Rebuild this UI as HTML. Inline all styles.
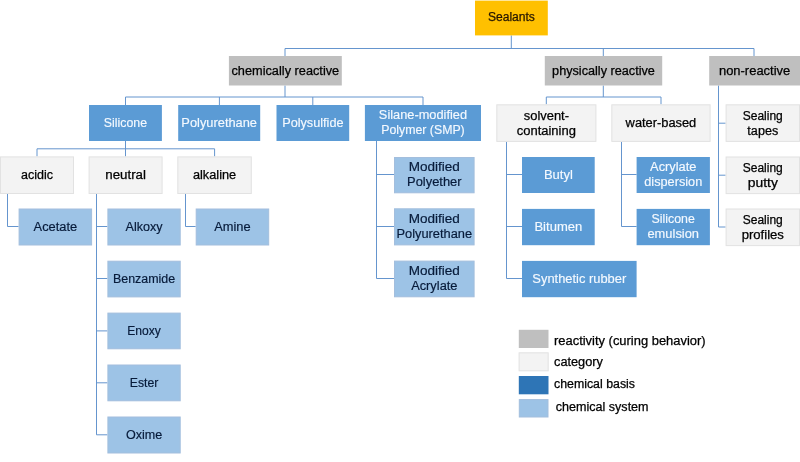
<!DOCTYPE html>
<html lang="en">
<head>
<meta charset="utf-8">
<title>Sealants classification</title>
<style>
html,body{margin:0;padding:0;background:#fff;}
body{width:800px;height:462px;overflow:hidden;}
svg{display:block;filter:blur(0.35px);}
text{font-family:"Liberation Sans", sans-serif;font-size:12.3px;stroke-width:0.25px;stroke-linejoin:round;}
.k{fill:#000;stroke:#000;}
.w{fill:#f4f9ff;stroke:#f4f9ff;stroke-width:0.15px;}
.n{fill:#071b3a;stroke:#071b3a;stroke-width:0.18px;}
.g{fill:#241500;stroke:#241500;}
.c{fill:none;stroke:#6595CE;stroke-width:1;}
</style>
</head>
<body>
<svg width="800" height="462" viewBox="0 0 800 462">
<rect width="800" height="462" fill="#fff"/>
<g class="c">
<path d="M511.3 35.4V48.5"/>
<path d="M285 56V48.5H754V56"/>
<path d="M603.3 48.5V56"/>
<path d="M285 85.5V97"/>
<path d="M125.5 105V97H423V105"/>
<path d="M219.4 97V105"/>
<path d="M312.8 97V105"/>
<path d="M603.3 85.5V97"/>
<path d="M546.3 104.3V97H661V104.3"/>
<path d="M718.5 85.5V227H725.6"/>
<path d="M718.5 123.2H725.6"/>
<path d="M718.5 175.2H725.6"/>
<path d="M125.5 141V156.4"/>
<path d="M37 156.4V148.8H214.6V156.4"/>
<path d="M7.5 194V226.5H18.6"/>
<path d="M96.5 194V434.8H107.4"/>
<path d="M96.5 226.5H107.4"/>
<path d="M96.5 278.5H107.4"/>
<path d="M96.5 330.9H107.4"/>
<path d="M96.5 382.8H107.4"/>
<path d="M185.5 194V226.5H195.7"/>
<path d="M376.5 141V278.5H394"/>
<path d="M376.5 174.5H394"/>
<path d="M376.5 226.5H394"/>
<path d="M506.5 141.9V278.5H522"/>
<path d="M506.5 174.5H522"/>
<path d="M506.5 226.5H522"/>
<path d="M621.5 141.9V226.5H636.6"/>
<path d="M621.5 174.5H636.6"/>
</g>
<rect x="475.0" y="0.6" width="72.8" height="34.8" fill="#FFC000"/>
<text x="511.40" y="21.30" class="g" text-anchor="middle" textLength="47.03" lengthAdjust="spacingAndGlyphs">Sealants</text>
<rect x="228.9" y="56.0" width="112.9" height="29.5" fill="#BFBFBF"/>
<text x="285.35" y="74.75" class="k" text-anchor="middle" textLength="107.69" lengthAdjust="spacingAndGlyphs">chemically reactive</text>
<rect x="544.8" y="56.0" width="117.4" height="29.5" fill="#BFBFBF"/>
<text x="603.50" y="74.75" class="k" text-anchor="middle" textLength="102.84" lengthAdjust="spacingAndGlyphs">physically reactive</text>
<rect x="709.2" y="56.0" width="90.8" height="29.5" fill="#BFBFBF"/>
<text x="754.60" y="74.75" class="k" text-anchor="middle" textLength="71.27" lengthAdjust="spacingAndGlyphs">non-reactive</text>
<rect x="89.0" y="105.0" width="72.9" height="36.0" fill="#5B9BD5"/>
<text x="125.45" y="127.00" class="w" text-anchor="middle" textLength="43.23" lengthAdjust="spacingAndGlyphs">Silicone</text>
<rect x="178.2" y="105.0" width="82.0" height="36.0" fill="#5B9BD5"/>
<text x="219.20" y="127.00" class="w" text-anchor="middle" textLength="75.62" lengthAdjust="spacingAndGlyphs">Polyurethane</text>
<rect x="276.5" y="105.0" width="72.7" height="36.0" fill="#5B9BD5"/>
<text x="312.85" y="127.00" class="w" text-anchor="middle" textLength="61.35" lengthAdjust="spacingAndGlyphs">Polysulfide</text>
<rect x="364.9" y="105.0" width="116.1" height="36.0" fill="#5B9BD5"/>
<text x="422.95" y="119.10" class="w" text-anchor="middle" textLength="88.16" lengthAdjust="spacingAndGlyphs">Silane-modified</text>
<text x="422.95" y="134.10" class="w" text-anchor="middle" textLength="83.58" lengthAdjust="spacingAndGlyphs">Polymer (SMP)</text>
<rect x="496.8" y="104.8" width="99.1" height="36.6" fill="#F3F3F3" stroke="#E2E2E2" stroke-width="1"/>
<text x="546.35" y="119.70" class="k" text-anchor="middle" textLength="45.20" lengthAdjust="spacingAndGlyphs">solvent-</text>
<text x="546.35" y="134.70" class="k" text-anchor="middle" textLength="59.14" lengthAdjust="spacingAndGlyphs">containing</text>
<rect x="611.8" y="104.8" width="98.3" height="36.6" fill="#F3F3F3" stroke="#E2E2E2" stroke-width="1"/>
<text x="660.95" y="127.10" class="k" text-anchor="middle" textLength="70.63" lengthAdjust="spacingAndGlyphs">water-based</text>
<rect x="726.1" y="104.8" width="73.4" height="36.6" fill="#F3F3F3" stroke="#E2E2E2" stroke-width="1"/>
<text x="762.80" y="119.70" class="k" text-anchor="middle" textLength="40.04" lengthAdjust="spacingAndGlyphs">Sealing</text>
<text x="762.80" y="134.70" class="k" text-anchor="middle" textLength="30.86" lengthAdjust="spacingAndGlyphs">tapes</text>
<rect x="0.5" y="156.9" width="73.0" height="36.6" fill="#F3F3F3" stroke="#E2E2E2" stroke-width="1"/>
<text x="37.00" y="179.20" class="k" text-anchor="middle" textLength="31.98" lengthAdjust="spacingAndGlyphs">acidic</text>
<rect x="89.1" y="156.9" width="73.0" height="36.6" fill="#F3F3F3" stroke="#E2E2E2" stroke-width="1"/>
<text x="125.60" y="179.20" class="k" text-anchor="middle" textLength="40.72" lengthAdjust="spacingAndGlyphs">neutral</text>
<rect x="177.8" y="156.9" width="73.5" height="36.6" fill="#F3F3F3" stroke="#E2E2E2" stroke-width="1"/>
<text x="214.55" y="179.20" class="k" text-anchor="middle" textLength="43.27" lengthAdjust="spacingAndGlyphs">alkaline</text>
<rect x="394.5" y="157.5" width="79.6" height="35.3" fill="#9DC3E6" stroke="#A3BEDD" stroke-width="1"/>
<text x="434.30" y="170.95" class="n" text-anchor="middle" textLength="51.17" lengthAdjust="spacingAndGlyphs">Modified</text>
<text x="434.30" y="185.95" class="n" text-anchor="middle" textLength="54.43" lengthAdjust="spacingAndGlyphs">Polyether</text>
<rect x="522.0" y="157.0" width="72.7" height="36.0" fill="#5B9BD5"/>
<text x="558.35" y="179.00" class="w" text-anchor="middle" textLength="28.90" lengthAdjust="spacingAndGlyphs">Butyl</text>
<rect x="636.6" y="157.0" width="73.3" height="36.0" fill="#5B9BD5"/>
<text x="673.25" y="171.10" class="w" text-anchor="middle" textLength="46.31" lengthAdjust="spacingAndGlyphs">Acrylate</text>
<text x="673.25" y="186.10" class="w" text-anchor="middle" textLength="58.04" lengthAdjust="spacingAndGlyphs">dispersion</text>
<rect x="726.1" y="157.0" width="73.4" height="36.6" fill="#F3F3F3" stroke="#E2E2E2" stroke-width="1"/>
<text x="762.80" y="171.80" class="k" text-anchor="middle" textLength="40.04" lengthAdjust="spacingAndGlyphs">Sealing</text>
<text x="762.80" y="186.80" class="k" text-anchor="middle" textLength="30.10" lengthAdjust="spacingAndGlyphs">putty</text>
<rect x="19.1" y="209.0" width="72.5" height="36.0" fill="#9DC3E6" stroke="#A3BEDD" stroke-width="1"/>
<text x="55.35" y="231.00" class="n" text-anchor="middle" textLength="43.57" lengthAdjust="spacingAndGlyphs">Acetate</text>
<rect x="107.9" y="209.0" width="72.3" height="36.0" fill="#9DC3E6" stroke="#A3BEDD" stroke-width="1"/>
<text x="144.05" y="231.00" class="n" text-anchor="middle" textLength="37.06" lengthAdjust="spacingAndGlyphs">Alkoxy</text>
<rect x="196.2" y="209.0" width="72.5" height="36.0" fill="#9DC3E6" stroke="#A3BEDD" stroke-width="1"/>
<text x="232.45" y="231.00" class="n" text-anchor="middle" textLength="36.42" lengthAdjust="spacingAndGlyphs">Amine</text>
<rect x="394.5" y="208.8" width="79.6" height="36.1" fill="#9DC3E6" stroke="#A3BEDD" stroke-width="1"/>
<text x="434.30" y="222.65" class="n" text-anchor="middle" textLength="51.17" lengthAdjust="spacingAndGlyphs">Modified</text>
<text x="434.30" y="237.65" class="n" text-anchor="middle" textLength="75.62" lengthAdjust="spacingAndGlyphs">Polyurethane</text>
<rect x="522.0" y="208.9" width="72.7" height="36.3" fill="#5B9BD5"/>
<text x="558.35" y="231.05" class="w" text-anchor="middle" textLength="47.86" lengthAdjust="spacingAndGlyphs">Bitumen</text>
<rect x="636.6" y="208.9" width="73.3" height="36.3" fill="#5B9BD5"/>
<text x="673.25" y="223.15" class="w" text-anchor="middle" textLength="43.23" lengthAdjust="spacingAndGlyphs">Silicone</text>
<text x="673.25" y="238.15" class="w" text-anchor="middle" textLength="51.59" lengthAdjust="spacingAndGlyphs">emulsion</text>
<rect x="726.1" y="209.0" width="73.4" height="36.6" fill="#F3F3F3" stroke="#E2E2E2" stroke-width="1"/>
<text x="762.80" y="223.80" class="k" text-anchor="middle" textLength="40.04" lengthAdjust="spacingAndGlyphs">Sealing</text>
<text x="762.80" y="238.80" class="k" text-anchor="middle" textLength="42.30" lengthAdjust="spacingAndGlyphs">profiles</text>
<rect x="107.9" y="261.2" width="72.3" height="35.7" fill="#9DC3E6" stroke="#A3BEDD" stroke-width="1"/>
<text x="144.05" y="283.05" class="n" text-anchor="middle" textLength="62.22" lengthAdjust="spacingAndGlyphs">Benzamide</text>
<rect x="394.5" y="261.1" width="79.6" height="35.7" fill="#9DC3E6" stroke="#A3BEDD" stroke-width="1"/>
<text x="434.30" y="274.75" class="n" text-anchor="middle" textLength="51.17" lengthAdjust="spacingAndGlyphs">Modified</text>
<text x="434.30" y="289.75" class="n" text-anchor="middle" textLength="46.31" lengthAdjust="spacingAndGlyphs">Acrylate</text>
<rect x="522.0" y="260.9" width="114.6" height="36.3" fill="#5B9BD5"/>
<text x="579.30" y="283.05" class="w" text-anchor="middle" textLength="93.90" lengthAdjust="spacingAndGlyphs">Synthetic rubber</text>
<rect x="107.9" y="313.1" width="72.3" height="35.7" fill="#9DC3E6" stroke="#A3BEDD" stroke-width="1"/>
<text x="144.05" y="334.95" class="n" text-anchor="middle" textLength="33.61" lengthAdjust="spacingAndGlyphs">Enoxy</text>
<rect x="107.9" y="365.0" width="72.3" height="35.8" fill="#9DC3E6" stroke="#A3BEDD" stroke-width="1"/>
<text x="144.05" y="386.90" class="n" text-anchor="middle" textLength="28.54" lengthAdjust="spacingAndGlyphs">Ester</text>
<rect x="107.9" y="417.0" width="72.3" height="36.0" fill="#9DC3E6" stroke="#A3BEDD" stroke-width="1"/>
<text x="144.05" y="439.00" class="n" text-anchor="middle" textLength="36.30" lengthAdjust="spacingAndGlyphs">Oxime</text>
<rect x="518.8" y="329.8" width="29.7" height="18.2" fill="#BFBFBF"/>
<text x="629.81" y="344.90" class="k" text-anchor="middle" textLength="151.61" lengthAdjust="spacingAndGlyphs">reactivity (curing behavior)</text>
<rect x="519.1" y="352.8" width="29.1" height="18.0" fill="#F3F3F3" stroke="#E2E2E2" stroke-width="1"/>
<text x="578.47" y="365.70" class="k" text-anchor="middle" textLength="48.94" lengthAdjust="spacingAndGlyphs">category</text>
<rect x="518.8" y="376.0" width="29.7" height="18.3" fill="#2E75B6"/>
<text x="594.50" y="387.80" class="k" text-anchor="middle" textLength="80.99" lengthAdjust="spacingAndGlyphs">chemical basis</text>
<rect x="519.3" y="399.6" width="28.7" height="17.4" fill="#9DC3E6" stroke="#A3BEDD" stroke-width="1"/>
<text x="602.18" y="411.20" class="k" text-anchor="middle" textLength="92.76" lengthAdjust="spacingAndGlyphs">chemical system</text>
</svg>
</body>
</html>
